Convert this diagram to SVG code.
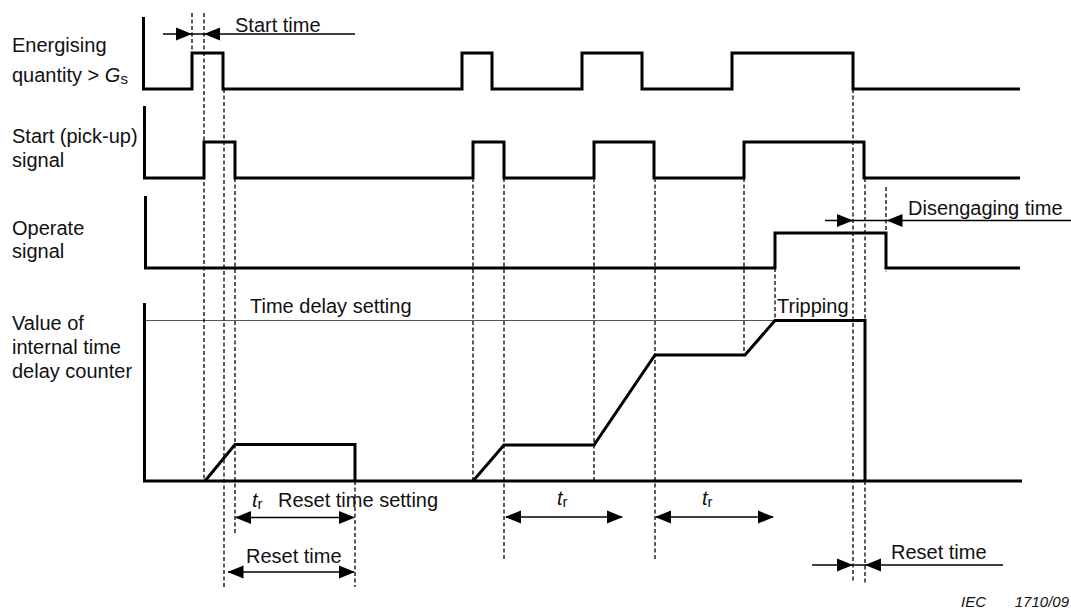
<svg xmlns="http://www.w3.org/2000/svg" width="1071" height="613" viewBox="0 0 1071 613">
<defs>
<style>
text{font-family:"Liberation Sans",Arial,sans-serif;font-size:20px;fill:#111}
.sig{fill:none;stroke:#000;stroke-width:3;stroke-linejoin:miter}
.dash{fill:none;stroke:#000;stroke-width:1.3;stroke-dasharray:4 2.5}
.thin{fill:none;stroke:#555;stroke-width:1.2}
.arr{fill:none;stroke:#000;stroke-width:1.5}
.ah{fill:#000}
.it{font-style:italic}
.iec{font-size:15px;font-style:italic}
</style>
<path id="ahR" class="ah" d="M0,0 L-16,-6.5 L-16,6.5 Z"/>
<path id="ahL" class="ah" d="M0,0 L16,-6.5 L16,6.5 Z"/>
</defs>
<rect width="1071" height="613" fill="#fff"/>

<g id="labels">
<text x="12" y="52">Energising</text>
<text x="12" y="82">quantity &gt; <tspan class="it">G</tspan><tspan font-size="15" dy="2">s</tspan></text>
<text x="12" y="143">Start (pick-up)</text>
<text x="12" y="167">signal</text>
<text x="12" y="235">Operate</text>
<text x="12" y="258">signal</text>
<text x="12" y="330">Value of</text>
<text x="12" y="354">internal time</text>
<text x="12" y="378">delay counter</text>
</g>

<g id="energising">
<path class="sig" d="M143.5,17 V89 H192 V53 H223 V89 H462 V53 H492 V89 H582 V53 H642 V89 H732 V53 H853 V89 H1020"/>
</g>
<g id="start-signal">
<path class="sig" d="M144.5,106 V178 H204 V142 H235 V178 H473 V142 H504 V178 H594 V142 H654 V178 H744 V142 H864 V178 H1020"/>
</g>
<g id="operate-signal">
<path class="sig" d="M145.5,196 V268 H775 V233 H886 V268 H1020"/>
</g>
<g id="counter">
<path class="thin" d="M144,320.5 H866"/>
<path class="sig" d="M144.5,303 V481 H1022"/>
<path class="sig" d="M205,481 L235,444.5 H355 V481"/>
<path class="sig" d="M473,481 L504,445 H594 L655,355 H745 L775,320.5 H865 V481"/>
<text x="250" y="313">Time delay setting</text>
<text x="777" y="313">Tripping</text>
</g>

<g id="guides">
<path class="dash" d="M192,13 V89 M204,13 V481 M224,89 V587 M235,178 V535 M355,481 V587 M473,178 V481 M504,178 V560 M594,178 V481 M655,178 V560 M744,178 V355 M775,268 V320 M853,89 V583 M865,178 V320 M865,481 V583 M886,187 V272"/>
</g>

<g id="connectors">
<path class="arr" d="M163,34 H355"/>
<use href="#ahR" x="192" y="34"/>
<use href="#ahL" x="204" y="34"/>

<path class="arr" d="M825,220.5 H1071"/>
<use href="#ahR" x="853" y="220.5"/>
<use href="#ahL" x="886.5" y="220.5"/>

<path class="arr" d="M236,517.5 H354"/>
<use href="#ahL" x="235" y="517.5"/>
<use href="#ahR" x="355" y="517.5"/>

<path class="arr" d="M228,572 H354"/>
<use href="#ahL" x="227.5" y="572"/>
<use href="#ahR" x="355" y="572"/>

<path class="arr" d="M506,517 H622"/>
<use href="#ahL" x="505" y="517"/>
<use href="#ahR" x="623" y="517"/>

<path class="arr" d="M656,517 H773"/>
<use href="#ahL" x="655" y="517"/>
<use href="#ahR" x="774" y="517"/>

<path class="arr" d="M812,565 H1003"/>
<use href="#ahR" x="853" y="565"/>
<use href="#ahL" x="865" y="565"/>
</g>

<g id="annotations">
<text x="235" y="32">Start time</text>
<text x="908" y="215">Disengaging time</text>
<text x="252" y="507"><tspan class="it">t</tspan><tspan font-size="15" dy="2">r</tspan></text>
<text x="278" y="507">Reset time setting</text>
<text x="246" y="563">Reset time</text>
<text x="557" y="505"><tspan class="it">t</tspan><tspan font-size="15" dy="2">r</tspan></text>
<text x="702" y="505"><tspan class="it">t</tspan><tspan font-size="15" dy="2">r</tspan></text>
<text x="891" y="559">Reset time</text>
<text class="iec" x="961" y="607">IEC</text>
<text class="iec" x="1069" y="607" text-anchor="end">1710/09</text>
</g>
</svg>
